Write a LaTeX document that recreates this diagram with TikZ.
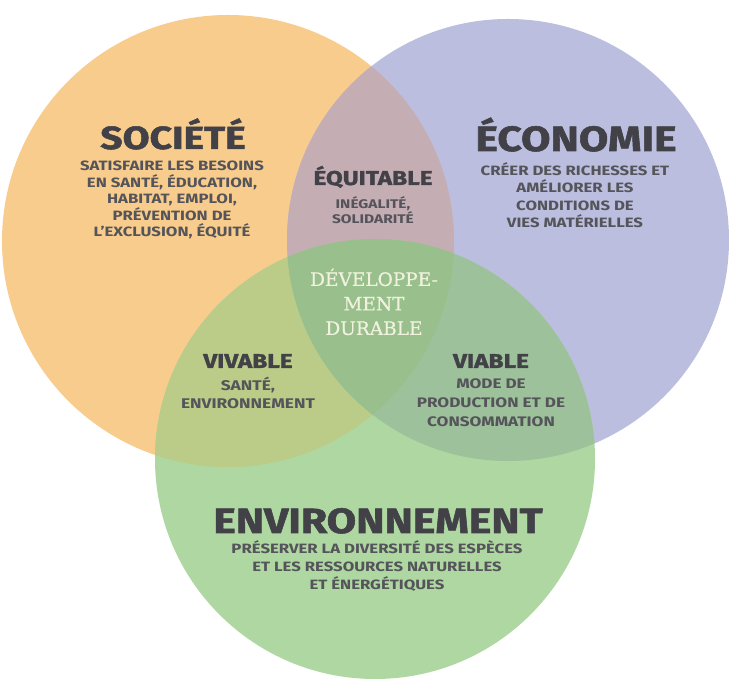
\documentclass[tikz,border=0pt]{standalone}
\usepackage{fontspec}
\setmainfont{Fira Sans}
\newfontfamily\largefont[FakeStretch=1.24]{Fira Sans}
\newfontfamily\grasfont[FakeStretch=1.22, FakeBold=1.6]{Fira Sans}
\newfontfamily\slabfont[FakeBold=0.6]{DejaVu Serif}
\definecolor{orangesoc}{HTML}{F8CC8C}
\definecolor{bleueco}{HTML}{BBBEDE}
\definecolor{vertenv}{HTML}{AED7A1}
\definecolor{mauveeq}{HTML}{C4ADB3}
\definecolor{olivev}{HTML}{BACC88}
\definecolor{vertvia}{HTML}{9DC19B}
\definecolor{vertdur}{HTML}{98BF8C}
\definecolor{encre}{HTML}{414147}
\definecolor{blanccasse}{HTML}{F1F2DE}
\tikzset{
  titre/.style={font=\grasfont\bfseries\fontsize{32}{32}\selectfont, text=encre, inner sep=0pt, anchor=base},
  soustitre/.style={font=\grasfont\bfseries\fontsize{20}{20}\selectfont, text=encre, inner sep=0pt, anchor=base},
  texte/.style={font=\largefont\bfseries\fontsize{13.5}{16.5}\selectfont, text=encre!90, inner sep=0pt, align=center}
}
\begin{document}
\begin{tikzpicture}[x=1pt,y=1pt]
\useasboundingbox (0,0) rectangle (730,682);
\fill [white] (0,0) rectangle (730,682);
\coordinate (soc) at (228,441);
\coordinate (eco) at (508,442);
\coordinate (env) at (375,223);
\fill [orangesoc] (soc) circle [radius=226pt];
\fill [bleueco] (eco) circle [radius=221pt];
\fill [vertenv] (env) circle [radius=220pt];
\begin{scope}
\clip (soc) circle [radius=226pt];
\fill [mauveeq] (eco) circle [radius=221pt];
\fill [olivev] (env) circle [radius=220pt];
\end{scope}
\begin{scope}
\clip (eco) circle [radius=221pt];
\fill [vertvia] (env) circle [radius=220pt];
\clip (soc) circle [radius=226pt];
\fill [vertdur] (env) circle [radius=220pt];
\end{scope}

\node [titre] (societe) at (173,533) {SOCIÉTÉ};
\node [texte] (societetxt) at (172,482) {SATISFAIRE LES BESOINS\\EN SANTÉ, ÉDUCATION,\\HABITAT, EMPLOI,\\PRÉVENTION DE\\L’EXCLUSION, ÉQUITÉ};
\node [titre, font=\grasfont\bfseries\fontsize{35}{35}\selectfont] (economie) at (576,531) {ÉCONOMIE};
\node [texte, font=\largefont\bfseries\fontsize{13.5}{17.5}\selectfont] (economietxt) at (575,487) {CRÉER DES RICHESSES ET\\AMÉLIORER LES\\CONDITIONS DE\\VIES MATÉRIELLES};
\node [soustitre] (equitable) at (373,497) {ÉQUITABLE};
\node [texte, font=\largefont\bfseries\fontsize{12.5}{15.5}\selectfont] (equitabletxt) at (373,472) {INÉGALITÉ,\\SOLIDARITÉ};
\node [font=\slabfont\fontsize{18.5}{24.5}\selectfont, text=blanccasse, inner sep=0pt, align=center] (durable) at (374,380) {DÉVELOPPE-\\MENT\\DURABLE};
\node [soustitre] (vivable) at (248,314) {VIVABLE};
\node [texte, font=\largefont\bfseries\fontsize{14}{17.5}\selectfont] (vivabletxt) at (248,289) {SANTÉ,\\ENVIRONNEMENT};
\node [soustitre] (viable) at (491,314) {VIABLE};
\node [texte, font=\largefont\bfseries\fontsize{13.8}{19}\selectfont] (viabletxt) at (491,279) {MODE DE\\PRODUCTION ET DE\\CONSOMMATION};
\node [titre, font=\grasfont\bfseries\fontsize{35}{35}\selectfont] (environnement) at (378,149) {ENVIRONNEMENT};
\node [texte, font=\largefont\bfseries\fontsize{13.5}{18}\selectfont] (environnementtxt) at (377,116) {PRÉSERVER LA DIVERSITÉ DES ESPÈCES\\ET LES RESSOURCES NATURELLES\\ET ÉNERGÉTIQUES};
\end{tikzpicture}
\end{document}
